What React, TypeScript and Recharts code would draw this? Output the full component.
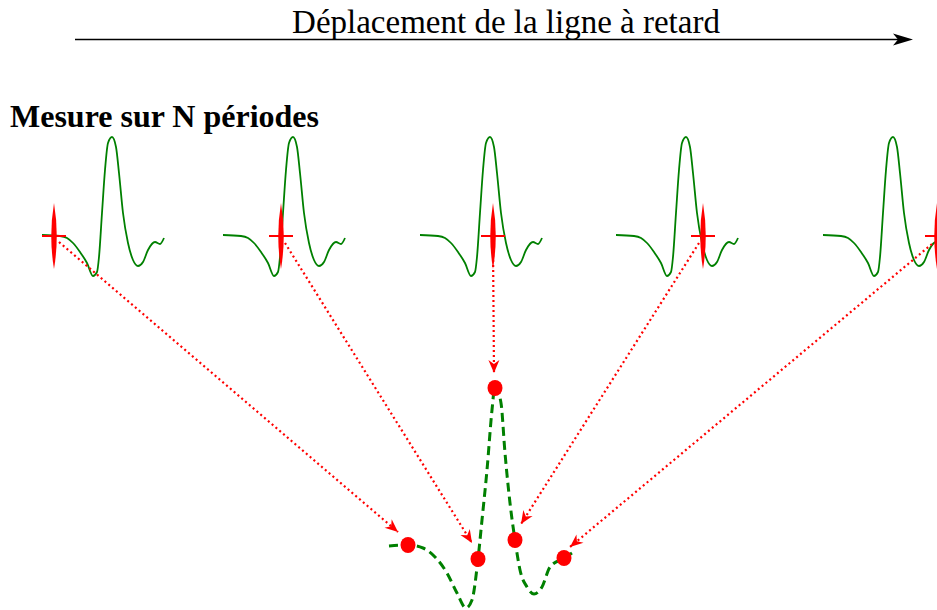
import { ComposedChart, Line, Scatter, XAxis, YAxis, Customized } from 'recharts';

const W = 937;
const H = 610;

// one pulse, offsets from its left end (px)
const PULSE_DX = [0, 18, 25, 31, 38, 45, 51, 55, 57, 60, 63, 66, 70, 74, 77, 81, 86, 91, 96, 101, 106, 113, 118, 122];
const PULSE_DY = [0, 1, 3, 8, 17, 28, 41, 37, 22, -22, -65, -92, -98, -88, -62, -22, 8, 25, 31, 27, 15, 7, 9, 3];
const PULSE_START = [42, 223, 420, 616, 823];
const BASE_Y = 235;

// red sampling marks on each period
const CROSS_X = [54, 281, 493, 703, 937];
const CROSS_Y = 236;

// dotted arrows: start and tip
const ARROW_X1 = [59, 285, 493, 699, 932];
const ARROW_Y1 = [242, 243, 245, 243, 244];
const ARROW_X2 = [398, 472, 494, 521, 570];
const ARROW_Y2 = [532, 543, 373, 524, 547];

// reconstructed (sampled) signal at the bottom
const BOTTOM_X = [389, 408, 423, 435, 447, 457, 466, 472, 478, 482, 487, 492, 495, 501, 505, 510, 515, 520, 527, 534, 542, 550, 564, 572];
const BOTTOM_Y = [546, 545, 548, 557, 573, 593, 608, 600, 559, 520, 470, 410, 386, 403, 453, 503, 540, 570, 587, 594, 587, 567, 558, 553];

const SAMPLE_X = [408, 478, 495, 515, 564];
const SAMPLE_Y = [545, 559, 388, 540, 558];

const RED = '#ff0000';
const GREEN = '#008000';

const pulses = PULSE_START.map((x0) =>
  PULSE_DX.map((dx, i) => ({ x: x0 + dx, y: BASE_Y + PULSE_DY[i] }))
);
const bottom = BOTTOM_X.map((x, i) => ({ x, y: BOTTOM_Y[i] }));
const crosses = CROSS_X.map((x) => ({ x, y: CROSS_Y }));
const samples = SAMPLE_X.map((x, i) => ({ x, y: SAMPLE_Y[i] }));
const arrows = ARROW_X1.map((x, i) => [
  { x, y: ARROW_Y1[i] },
  { x: ARROW_X2[i], y: ARROW_Y2[i] },
]);

function Cross(props: any) {
  const { cx, cy } = props;
  return (
    <g>
      <path
        d={`M${cx},${cy - 33} Q${cx + 5.5},${cy} ${cx},${cy + 33} Q${cx - 5.5},${cy} ${cx},${cy - 33} Z`}
        fill={RED}
      />
      <line x1={cx - 12} y1={cy} x2={cx + 12} y2={cy} stroke={RED} strokeWidth={2} />
    </g>
  );
}

function SampleDot(props: any) {
  const { cx, cy } = props;
  return <ellipse cx={cx} cy={cy} rx={7.5} ry={8} fill={RED} />;
}

function arrowHead(angle: number) {
  return (props: any) => {
    const { cx, cy, index } = props;
    if (index !== 1) return <g key={`a${index}`} />;
    return (
      <path
        key={`a${index}`}
        d="M0,0 L-13,-5.5 L-9,0 L-13,5.5 Z"
        fill={RED}
        transform={`translate(${cx},${cy}) rotate(${(angle * 180) / Math.PI})`}
      />
    );
  };
}

function Labels() {
  return (
    <g>
      <line x1={75} y1={39.5} x2={900} y2={39.5} stroke="#000" strokeWidth={1.5} />
      <path d="M913,39.5 L893,33.5 L898,39.5 L893,45.5 Z" fill="#000" />
      <text
        x={506}
        y={33}
        textAnchor="middle"
        fontFamily="Liberation Serif"
        fontSize={33}
        fill="#000"
      >
        Déplacement de la ligne à retard
      </text>
      <text x={10} y={127} fontFamily="Liberation Serif" fontWeight="bold" fontSize={32} fill="#000">
        Mesure sur N périodes
      </text>
    </g>
  );
}

export default function App() {
  return (
    <div style={{ position: 'absolute', left: 0, top: 0, background: '#fff' }}>
      <ComposedChart width={W} height={H} margin={{ top: 0, right: 0, bottom: 0, left: 0 }}>
        <XAxis type="number" dataKey="x" domain={[0, W]} allowDataOverflow hide />
        <YAxis type="number" dataKey="y" domain={[0, H]} reversed allowDataOverflow hide />
        <Customized component={Labels} />

        {pulses.map((d, i) => (
          <Line
            key={`p${i}`}
            data={d}
            dataKey="y"
            type="monotone"
            stroke={GREEN}
            strokeWidth={1.8}
            dot={false}
            activeDot={false}
            isAnimationActive={false}
          />
        ))}

        <Line
          data={bottom}
          dataKey="y"
          type="monotone"
          stroke={GREEN}
          strokeWidth={3}
          strokeDasharray="9 5"
          dot={false}
          activeDot={false}
          isAnimationActive={false}
        />

        {arrows.map((d, i) => (
          <Line
            key={`a${i}`}
            data={d}
            dataKey="y"
            type="linear"
            stroke={RED}
            strokeWidth={2.2}
            strokeDasharray="2 3"
            dot={arrowHead(Math.atan2(d[1].y - d[0].y, d[1].x - d[0].x))}
            activeDot={false}
            isAnimationActive={false}
          />
        ))}

        <Scatter data={crosses} dataKey="y" shape={Cross} isAnimationActive={false} />
        <Scatter data={samples} dataKey="y" shape={SampleDot} isAnimationActive={false} />
      </ComposedChart>
    </div>
  );
}
